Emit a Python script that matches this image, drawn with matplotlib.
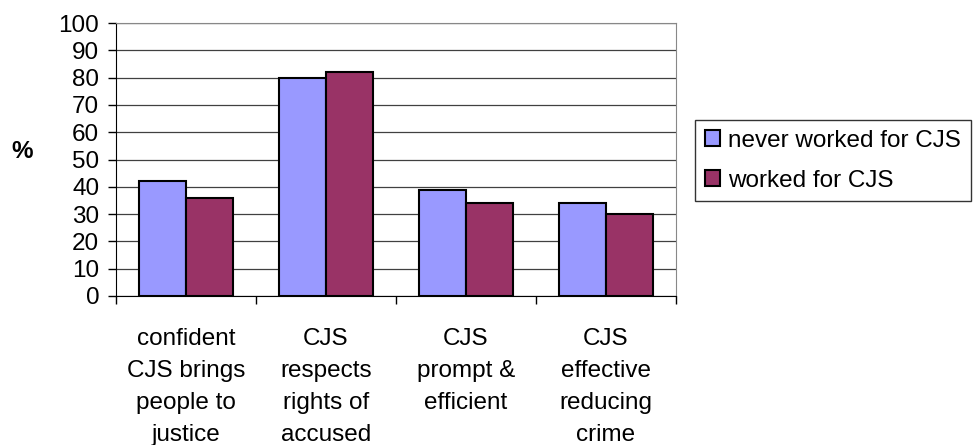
import matplotlib.pyplot as plt
import numpy as np

plt.rcParams['font.family'] = ['Liberation Sans', 'DejaVu Sans']

# ===========================
# Data
# ===========================
categories = [
    "confident\nCJS brings\npeople to\njustice",
    "CJS\nrespects\nrights of\naccused",
    "CJS\nprompt &\nefficient",
    "CJS\neffective\nreducing\ncrime",
]
never_worked = [42, 80, 39, 34]
worked = [36, 82, 34, 30]
series_names = ["never worked for CJS", "worked for CJS"]

# ===========================
# Plot
# ===========================
fs = 17.5
fig = plt.figure(figsize=(9.75, 4.45), dpi=100)
ax = fig.add_axes([0.119, 0.335, 0.574, 0.613])

x = np.arange(len(categories))
w = 0.335
ax.bar(x - w / 2, never_worked, w, color="#9999FF", edgecolor="black",
       linewidth=1.5, label=series_names[0], zorder=3)
ax.bar(x + w / 2, worked, w, color="#993366", edgecolor="black",
       linewidth=1.5, label=series_names[1], zorder=3)

ax.set_xlim(-0.5, len(categories) - 0.5)
ax.set_ylim(0, 100)
ax.set_yticks(range(0, 101, 10))
ax.yaxis.grid(True, color="#404040", linewidth=0.9, zorder=0)

ax.set_xticks(x)
ax.set_xticklabels(categories, fontsize=fs, linespacing=1.6)
ax.set_xticks(np.arange(-0.5, len(categories)), minor=True)
ax.tick_params(axis="x", which="major", length=0, pad=23)
ax.tick_params(axis="x", which="minor", length=6, width=1, direction="out")
ax.tick_params(axis="y", length=6, width=1, labelsize=fs, pad=6)

for side in ["top", "right"]:
    ax.spines[side].set_color("#888888")
ax.spines["left"].set_color("black")
ax.spines["bottom"].set_color("black")

fig.text(0.0113, 0.659, "%", fontsize=fs, fontweight="bold", va="center")

fig.legend(loc="center left", bbox_to_anchor=(0.713, 0.639), fontsize=fs,
           frameon=True, fancybox=False, edgecolor="black", handlelength=0.62,
           handleheight=0.62, handletextpad=0.33, borderpad=0.4,
           labelspacing=0.75, borderaxespad=0)

plt.savefig("out.png", dpi=100)
